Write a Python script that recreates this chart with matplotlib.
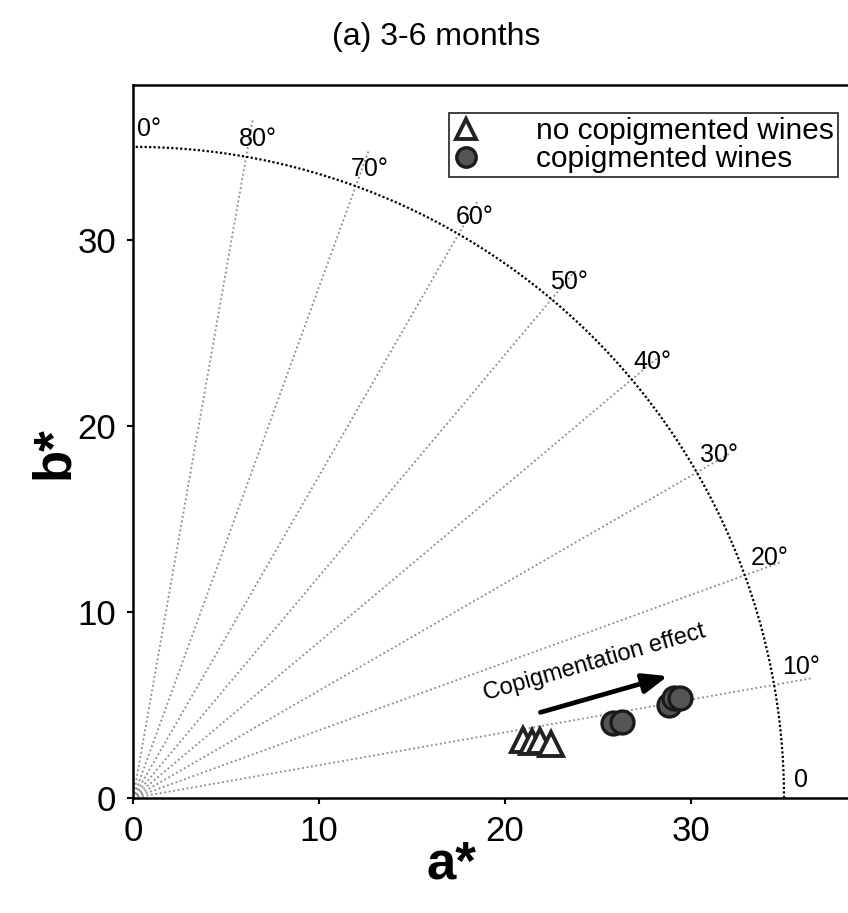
import numpy as np
import matplotlib
matplotlib.use("Agg")
import matplotlib.pyplot as plt

plt.rcParams["font.family"] = ["Liberation Sans", "DejaVu Sans"]

# data (a*, b*)
no_copig_a = [20.97, 21.45, 21.9, 22.45]
no_copig_b = [3.12, 3.00, 3.06, 2.90]
copig_a = [25.8, 26.3, 28.8, 29.1, 29.4]
copig_b = [4.03, 4.09, 5.00, 5.38, 5.38]

hue_angles = [10, 20, 30, 40, 50, 60, 70, 80]
angle_labels = ["0", "10°", "20°", "30°", "40°", "50°", "60°", "70°", "80°", "0°"]
label_angles = [0, 10, 20, 30, 40, 50, 60, 70, 80, 90]
chroma_radius = 35
ray_length = 37

arrow_start = (21.9, 4.6)
arrow_end = (28.75, 6.55)


def main():
    fig = plt.figure(figsize=(8.48, 9.13), dpi=100)
    ax = fig.add_axes([0.157, 0.126, 0.843, 0.781])
    ax.set_xlim(0, 38.44)
    ax.set_ylim(0, 38.33)

    # hue angle rays
    for ang in hue_angles:
        t = np.radians(ang)
        ax.plot([0, ray_length * np.cos(t)], [0, ray_length * np.sin(t)],
                ls=(0, (1, 1.5)), color="#8a8a8a", lw=1.3, zorder=1)

    # chroma circle
    t = np.linspace(0, np.pi / 2, 300)
    ax.plot(chroma_radius * np.cos(t), chroma_radius * np.sin(t),
            ls=(0, (1, 1)), color="black", lw=1.6, zorder=1)

    # angle labels just outside the circle
    for ang, lab in zip(label_angles, angle_labels):
        t = np.radians(ang)
        dx = (10 - 0.22 * ang) * 0.72
        if ang == 90:
            dx = 3
        ax.annotate(lab, (chroma_radius * np.cos(t), chroma_radius * np.sin(t)),
                    xytext=(dx, 4), textcoords="offset points",
                    ha="left", va="bottom", fontsize=18, zorder=3)

    ax.plot(no_copig_a, no_copig_b, ls="none", marker="^", ms=17,
            mfc="white", mec="#222222", mew=2.8, zorder=4,
            label="no copigmented wines")
    ax.plot(copig_a, copig_b, ls="none", marker="o", ms=16.5,
            mfc="#555555", mec="#1a1a1a", mew=2.4, zorder=5,
            label="copigmented wines")

    ax.annotate("", xy=arrow_end, xytext=arrow_start,
                arrowprops=dict(arrowstyle="-|>,head_length=1.5,head_width=0.6",
                                color="black", lw=3.4, shrinkA=0, shrinkB=0))
    ax.text(24.8, 7.25, "Copigmentation effect", rotation=16,
            ha="center", va="center", fontsize=17, rotation_mode="anchor")

    leg = ax.legend(loc="upper left", bbox_to_anchor=(0.442, 0.96),
                    borderaxespad=0, fontsize=21.5, frameon=True, fancybox=False,
                    borderpad=0.12, handlelength=0.9, handletextpad=1.9,
                    labelspacing=0.0, markerscale=0.85)
    leg.get_frame().set_edgecolor("black")
    leg.get_frame().set_linewidth(1.3)

    for side in ["left", "bottom", "top"]:
        ax.spines[side].set_linewidth(1.8)
    ax.spines["right"].set_visible(False)

    ax.set_xticks([0, 10, 20, 30])
    ax.set_yticks([0, 10, 20, 30])
    ax.tick_params(labelsize=25, width=1.5, length=4, direction="out", pad=8)

    ax.set_xlabel("a*", fontsize=38, fontweight="bold")
    ax.xaxis.set_label_coords(0.445, -0.094, transform=ax.transAxes)
    ax.xaxis.label.set_va("center")
    ax.set_ylabel("b*", fontsize=38, fontweight="bold")
    ax.yaxis.set_label_coords(-0.11, 0.485, transform=ax.transAxes)
    ax.yaxis.label.set_va("center")

    fig.text(0.514, 0.96, "(a) 3-6 months", ha="center", va="center", fontsize=23)

    fig.savefig("out.png", dpi=100)


if __name__ == "__main__":
    main()
